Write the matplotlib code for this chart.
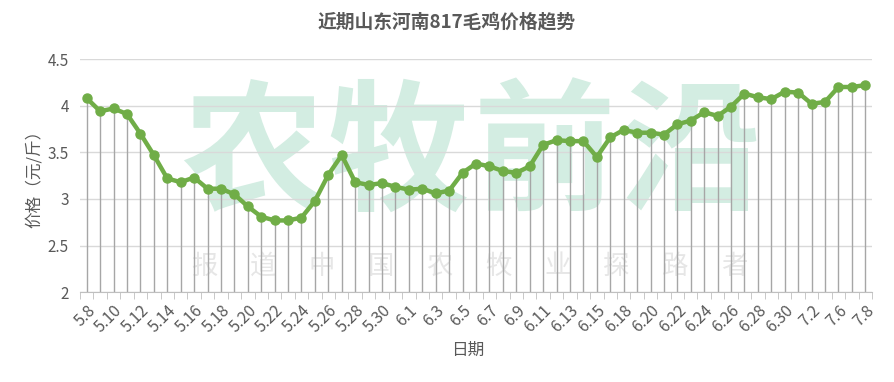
import matplotlib
matplotlib.use("Agg")
import matplotlib.pyplot as plt
import numpy as np

plt.rcParams['font.family'] = ['Noto Sans CJK SC', 'DejaVu Sans']

dates = ["5.8", "5.9", "5.10", "5.11", "5.12", "5.13", "5.14", "5.15", "5.16", "5.17",
         "5.18", "5.19", "5.20", "5.21", "5.22", "5.23", "5.24", "5.25", "5.26", "5.27",
         "5.28", "5.29", "5.30", "5.31", "6.1", "6.2", "6.3", "6.4", "6.5", "6.6",
         "6.7", "6.8", "6.9", "6.10", "6.11", "6.12", "6.13", "6.14", "6.15", "6.16",
         "6.18", "6.19", "6.20", "6.21", "6.22", "6.23", "6.24", "6.25", "6.26", "6.27",
         "6.28", "6.29", "6.30", "7.1", "7.2", "7.5", "7.6", "7.7", "7.8"]
prices = [4.08, 3.94, 3.97, 3.91, 3.70, 3.47, 3.22, 3.18, 3.23, 3.11,
          3.11, 3.05, 2.92, 2.81, 2.77, 2.77, 2.80, 2.98, 3.26, 3.47,
          3.18, 3.15, 3.17, 3.13, 3.10, 3.11, 3.06, 3.09, 3.28, 3.38,
          3.35, 3.30, 3.28, 3.35, 3.58, 3.63, 3.62, 3.62, 3.45, 3.66,
          3.74, 3.71, 3.71, 3.69, 3.80, 3.84, 3.93, 3.89, 3.99, 4.13,
          4.09, 4.07, 4.15, 4.14, 4.02, 4.04, 4.20, 4.20, 4.22]
y_ticks = [2, 2.5, 3, 3.5, 4, 4.5]
y_tick_labels = ["2", "2.5", "3", "3.5", "4", "4.5"]
wm_big = ["农", "牧", "前", "沿"]
wm_small = ["报", "道", "中", "国", "农", "牧", "业", "探", "路", "者"]

W, H = 894, 382
fig = plt.figure(figsize=(W / 100, H / 100), dpi=100)
left, right, top, bottom = 80, 872, 59, 292.3
ax = fig.add_axes([left / W, 1 - bottom / H, (right - left) / W, (bottom - top) / H])

n = len(dates)
x = np.arange(n)
ax.set_xlim(-0.5, n - 0.5)
ax.set_ylim(2, 4.5)

# watermark (drawn under gridlines)
for i, ch in enumerate(wm_big):
    ax.text((252 + i * 146) / W, 1 - 157 / H, ch, transform=fig.transFigure,
            fontsize=102, color="#d3ede2", ha="center", va="center",
            fontweight="bold", zorder=0.2, clip_on=False)
for i, ch in enumerate(wm_small):
    ax.text((204 + i * 58.9) / W, 1 - 266 / H, ch, transform=fig.transFigure,
            fontsize=19, color="#e6e6e6", ha="center", va="center",
            zorder=0.2, clip_on=False)

for yv in y_ticks:
    ax.axhline(yv, color="#d9d9d9", lw=1, zorder=1)

ax.vlines(x, 2, prices, color="#a6a6a6", lw=1, zorder=2)
ax.plot(x, prices, color="#70ad47", lw=3.2, marker="o", markersize=6.5,
        markerfacecolor="#70ad47", markeredgecolor="#70ad47", zorder=3)

for s in ["left", "right", "top"]:
    ax.spines[s].set_visible(False)
ax.spines["bottom"].set_color("#bfbfbf")

ax.set_yticks(y_ticks)
ax.set_yticklabels(y_tick_labels)
ax.tick_params(axis="y", length=0, labelsize=11, labelcolor="#595959", pad=8)

ax.set_xticks(np.arange(-0.5, n, 1), minor=True)
ax.tick_params(axis="x", which="minor", length=5, color="#bfbfbf", direction="out")
ax.set_xticks(x[::2])
ax.set_xticklabels(dates[::2], rotation=45, ha="right", va="top",
                   rotation_mode="anchor")
ax.tick_params(axis="x", which="major", length=0, labelsize=11.5, labelcolor="#595959", pad=7)

fig.text(447 / W, 1 - 22 / H, "近期山东河南817毛鸡价格趋势", fontsize=13.5,
         fontweight="bold", color="#595959", ha="center", va="center")
fig.text(34 / W, 1 - 175 / H, "价格（元/斤）", fontsize=12, color="#595959",
         rotation=90, ha="center", va="center")
fig.text(468 / W, 1 - 350 / H, "日期", fontsize=12, color="#595959",
         ha="center", va="center")

fig.savefig("out.png", dpi=100)
